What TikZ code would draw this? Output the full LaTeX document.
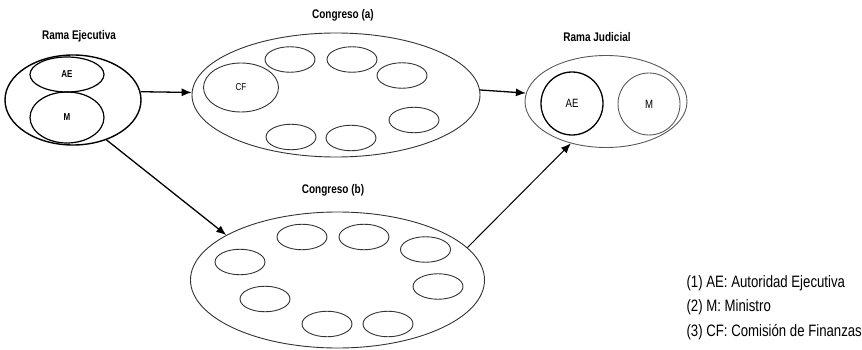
\documentclass[tikz,border=0pt]{standalone}
\usepackage{fontspec}
\setmainfont{Liberation Sans}
\newfontfamily\condfont[FakeStretch=0.8]{Liberation Sans}
\usetikzlibrary{shapes.geometric,arrows.meta}
\begin{document}
\begin{tikzpicture}[x=1pt,y=-1pt,
  oval/.style={ellipse,draw=black!80,line width=0.9pt,inner sep=0pt},
  small/.style={oval,minimum width=50pt,minimum height=25.5pt},
  strong/.style={ellipse,draw=black,line width=1.4pt,inner sep=0pt},
  titletext/.style={font=\condfont\fontsize{12.5}{14}\selectfont\bfseries},
  inlabel/.style={font=\condfont\fontsize{10}{12}\selectfont\bfseries},
  legendtext/.style={anchor=west,font=\condfont\fontsize{16.5}{18}\selectfont},
  arr/.style={line width=1.3pt,-{Latex[length=10pt,width=8pt]}}]
\useasboundingbox (0,0) rectangle (862,350);
% Rama Ejecutiva
\node[titletext] (tre) at (79,36) {Rama Ejecutiva};
\node[strong,minimum width=136pt,minimum height=90pt] (re) at (73,100) {};
\node[strong,line width=1.2pt,minimum width=74pt,minimum height=35pt,inlabel] (reae) at (67,74.5) {AE};
\node[strong,line width=1.2pt,minimum width=74pt,minimum height=51pt,inlabel] (rem) at (67,117.5) {M};
% Congreso (a)
\node[titletext] (tca) at (343,15) {Congreso (a)};
\node[oval,minimum width=288pt,minimum height=124pt] (ca) at (336,95) {};
\node[oval,minimum width=75pt,minimum height=49pt,inlabel,font=\condfont\fontsize{10}{12}\selectfont] (cf) at (241,87.5) {CF};
\node[small] (a1) at (290,59.5) {};
\node[small] (a2) at (352,59.5) {};
\node[small] (a3) at (402,75.5) {};
\node[small] (a4) at (414,120) {};
\node[small] (a5) at (291,137) {};
\node[small] (a6) at (351,138) {};
% Rama Judicial
\node[titletext] (trj) at (597,37) {Rama Judicial};
\node[oval,draw=black!65,minimum width=162pt,minimum height=92pt] (rj) at (606,101.5) {};
\node[strong,line width=1.3pt,minimum width=62pt,minimum height=63pt,font=\condfont\fontsize{12}{14}\selectfont] (rjae) at (572,103.5) {AE};
\node[oval,draw=black!65,minimum width=62pt,minimum height=62pt,font=\condfont\fontsize{12}{14}\selectfont] (rjm) at (649,104) {M};
% Congreso (b)
\node[titletext] (tcb) at (333,190) {Congreso (b)};
\node[oval,minimum width=294pt,minimum height=136pt] (cb) at (337.5,280) {};
\node[small] (b1) at (302,237) {};
\node[small] (b2) at (364,237) {};
\node[small] (b3) at (425.5,249.5) {};
\node[small] (b4) at (240,262) {};
\node[small] (b5) at (438,286.5) {};
\node[small] (b6) at (265,299) {};
\node[small] (b7) at (327,324) {};
\node[small] (b8) at (388,324) {};
% arrows
\draw[arr] (re.7) -- (ca.179);
\draw[arr] (ca.2) -- (rj.174);
\draw[arr] (re.-50) -- (cb.158);
\draw[arr,line width=1pt] (cb.14) -- (rj.230);
% legend
\node[legendtext] (l1) at (683,283) {(1) AE: Autoridad Ejecutiva};
\node[legendtext] (l2) at (683,307.5) {(2) M: Ministro};
\node[legendtext] (l3) at (683,332) {(3) CF: Comisión de Finanzas};
\end{tikzpicture}
\end{document}
